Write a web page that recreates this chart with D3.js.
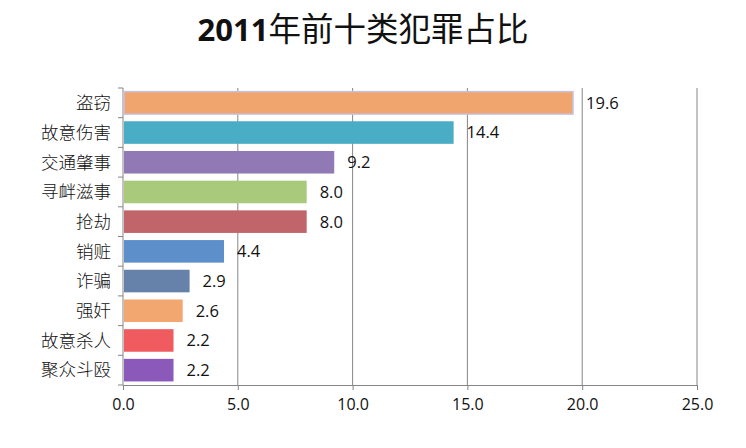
<!DOCTYPE html>
<html><head><meta charset="utf-8">
<script src="https://cdn.jsdelivr.net/npm/d3@7"></script>
<style>body{margin:0;background:#fff}svg{display:block}</style>
</head><body><svg id="c" width="746" height="448"></svg>
<script>
const categories = ["盗窃","故意伤害","交通肇事","寻衅滋事","抢劫","销赃","诈骗","强奸","故意杀人","聚众斗殴"];
const values = [19.6,14.4,9.2,8.0,8.0,4.4,2.9,2.6,2.2,2.2];
const colors = ["#F0A56F","#4AADC6","#9079B5","#A9C97B","#C1656B","#5D8FCA","#6681AA","#F2A771","#F05B5F","#8A59B9"];
const xTicks = [0,5,10,15,20,25];
const titleYear = "2011";
const titleRest = "年前十类犯罪占比";

const svg = d3.select("#c");
const m = {l:123, r:697, t:88, b:385};
const x = d3.scaleLinear().domain([0,25]).range([m.l, m.r]);
const y = d3.scaleBand().domain(categories).range([m.t, m.b]).paddingInner(0.24).paddingOuter(0.12);
const cjk = "'Noto Sans CJK SC', sans-serif";
const num = "'Open Sans', Lato, sans-serif";

const t = svg.append("text").attr("x", 363).attr("y", 41).attr("text-anchor","middle").attr("fill","#111");
t.append("tspan").attr("font-family", "'Open Sans', sans-serif").attr("font-weight","bold").attr("font-size",31).text(titleYear);
t.append("tspan").attr("font-family", cjk).attr("font-weight","normal").attr("font-size",32.5).text(titleRest);

// gridlines
svg.append("g").selectAll("line").data(xTicks.slice(1)).join("line")
  .attr("x1", d=>x(d)).attr("x2", d=>x(d)).attr("y1", m.t).attr("y2", m.b)
  .attr("stroke","#868686").attr("stroke-width",1);

// x axis
const xa = svg.append("g").attr("transform",`translate(0,${m.b})`)
  .call(d3.axisBottom(x).tickValues(xTicks).tickFormat(d3.format(".1f")).tickSize(5).tickPadding(9));
xa.select(".domain").attr("stroke","#868686");
xa.selectAll(".tick line").attr("stroke","#868686");
xa.selectAll("text").attr("font-family", num).attr("font-size", 16).attr("fill","#111");

// y axis line and ticks at band boundaries
svg.append("line").attr("x1",m.l).attr("x2",m.l).attr("y1",m.t).attr("y2",m.b).attr("stroke","#868686");
const bounds = d3.range(categories.length+1).map(i => m.t + i*(m.b-m.t)/categories.length);
svg.append("g").selectAll("line").data(bounds).join("line")
  .attr("x1", m.l-5).attr("x2", m.l).attr("y1", d=>d).attr("y2", d=>d).attr("stroke","#868686");

// category labels
svg.append("g").selectAll("text").data(categories).join("text")
  .attr("x", 111).attr("y", d=>y(d)+y.bandwidth()/2).attr("dy","0.36em")
  .attr("text-anchor","end").attr("font-family", cjk).attr("font-weight",300).attr("font-size",17.5).attr("fill","#111")
  .text(d=>d);

// bars
svg.append("g").selectAll("rect").data(values).join("rect")
  .attr("x", x(0)+1).attr("y", (d,i)=>y(categories[i]))
  .attr("width", d=>x(d)-x(0)-1).attr("height", y.bandwidth())
  .attr("fill", (d,i)=>colors[i])
  .attr("stroke", (d,i)=> i===0 ? "#C8C2E2" : "none").attr("stroke-width", 1.5);

// value labels
svg.append("g").selectAll("text").data(values).join("text")
  .attr("x", d=>x(d)+13).attr("y", (d,i)=>y(categories[i])+y.bandwidth()/2).attr("dy","0.36em")
  .attr("font-family", num).attr("font-size",16.5).attr("fill","#111")
  .text(d=>d3.format(".1f")(d));
</script></body></html>
